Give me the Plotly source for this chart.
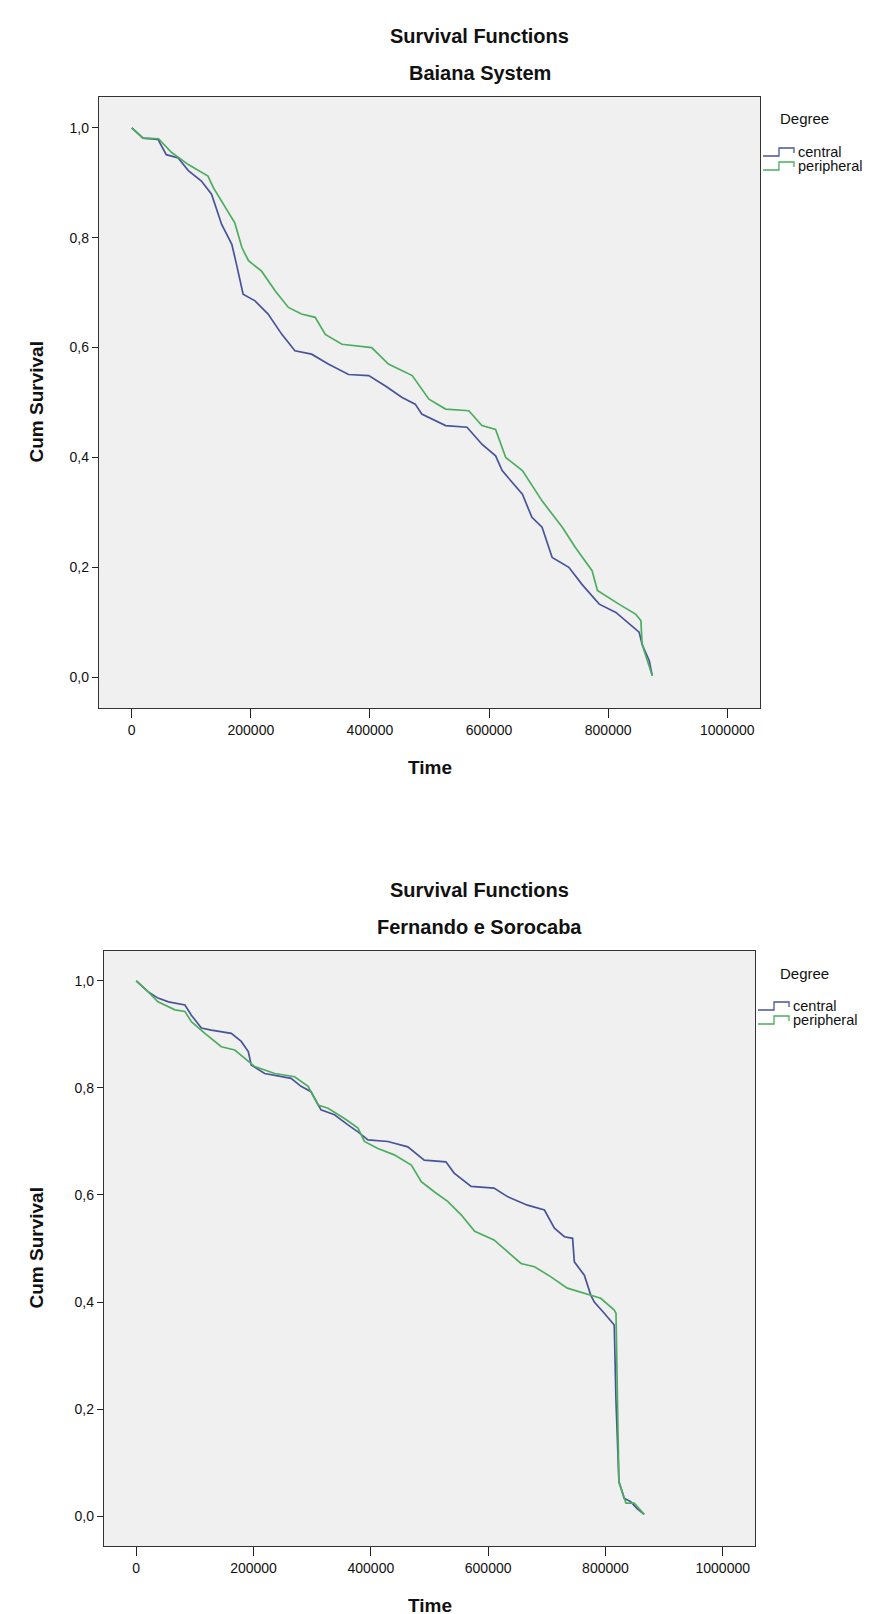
import plotly.graph_objects as go

W, H = 873, 1614

# ---------------- data ----------------
tick_vals_y = [0.0, 0.2, 0.4, 0.6, 0.8, 1.0]
tick_text_y = ["0,0", "0,2", "0,4", "0,6", "0,8", "1,0"]
tick_vals_x = [0, 200000, 400000, 600000, 800000, 1000000]
tick_text_x = ["0", "200000", "400000", "600000", "800000", "1000000"]
groups = ["central", "peripheral"]

# Baiana System
bs_central_t = [0, 19000, 44000, 58000, 78000, 95000, 117000, 134000, 151000, 168000,
                176000, 187000, 207000, 229000, 252000, 274000, 302000, 330000, 364000,
                398000, 426000, 454000, 476000, 487000, 527000, 563000, 588000, 611000,
                622000, 656000, 672000, 689000, 706000, 734000, 756000, 785000, 813000,
                835000, 852000, 857000, 869000, 874000]
bs_central_s = [1.0, 0.981, 0.979, 0.951, 0.945, 0.922, 0.903, 0.879, 0.824, 0.788,
                0.751, 0.697, 0.685, 0.661, 0.624, 0.594, 0.588, 0.570, 0.551,
                0.549, 0.530, 0.509, 0.497, 0.479, 0.458, 0.455, 0.424, 0.403,
                0.376, 0.333, 0.291, 0.273, 0.218, 0.200, 0.169, 0.133, 0.118,
                0.097, 0.082, 0.060, 0.030, 0.003]
bs_periph_t = [0, 19000, 45000, 67000, 95000, 128000, 137000, 157000, 173000, 185000,
               196000, 218000, 241000, 263000, 285000, 308000, 325000, 353000, 403000,
               431000, 471000, 499000, 527000, 566000, 588000, 611000, 628000, 656000,
               689000, 723000, 745000, 773000, 782000, 818000, 846000, 855000, 857000,
               874000]
bs_periph_s = [1.0, 0.981, 0.980, 0.955, 0.933, 0.912, 0.891, 0.855, 0.827, 0.782,
               0.758, 0.739, 0.703, 0.673, 0.661, 0.655, 0.624, 0.606, 0.600,
               0.570, 0.549, 0.506, 0.488, 0.485, 0.458, 0.451, 0.400, 0.376,
               0.321, 0.273, 0.236, 0.194, 0.158, 0.133, 0.115, 0.103, 0.060,
               0.003]

# Fernando e Sorocaba
fs_central_t = [0, 20000, 37000, 55000, 83000, 94000, 111000, 128000, 162000, 179000,
                191000, 196000, 219000, 247000, 264000, 281000, 298000, 315000, 338000,
                361000, 378000, 395000, 429000, 463000, 491000, 528000, 542000, 571000,
                610000, 633000, 667000, 696000, 713000, 730000, 744000, 747000, 764000,
                775000, 781000, 798000, 815000, 818000, 823000, 832000, 843000, 854000,
                866000]
fs_central_s = [1.0, 0.980, 0.968, 0.961, 0.955, 0.936, 0.912, 0.908, 0.902, 0.887,
                0.868, 0.843, 0.827, 0.821, 0.818, 0.803, 0.793, 0.759, 0.750,
                0.731, 0.718, 0.703, 0.700, 0.690, 0.665, 0.662, 0.641, 0.616,
                0.613, 0.597, 0.581, 0.572, 0.538, 0.522, 0.519, 0.475, 0.450,
                0.413, 0.400, 0.379, 0.357, 0.214, 0.064, 0.033, 0.027, 0.014,
                0.003]
fs_periph_t = [0, 20000, 37000, 66000, 83000, 94000, 117000, 145000, 168000, 191000,
               202000, 236000, 270000, 293000, 310000, 327000, 355000, 378000, 389000,
               412000, 440000, 469000, 486000, 508000, 531000, 554000, 577000, 610000,
               633000, 656000, 679000, 707000, 735000, 764000, 792000, 815000, 818000,
               821000, 823000, 835000, 849000, 866000]
fs_periph_s = [1.0, 0.980, 0.961, 0.946, 0.943, 0.924, 0.902, 0.877, 0.871, 0.849,
               0.840, 0.827, 0.821, 0.803, 0.768, 0.762, 0.743, 0.725, 0.700,
               0.687, 0.675, 0.656, 0.625, 0.606, 0.588, 0.563, 0.532, 0.516,
               0.494, 0.472, 0.466, 0.447, 0.426, 0.416, 0.407, 0.385, 0.379,
               0.183, 0.064, 0.024, 0.024, 0.003]

# ---------------- styling ----------------
C_BLUE = "#48549a"
C_GREEN = "#4cad5e"
FONT = "Liberation Sans, Arial, sans-serif"
TXT = "#111111"


def px(x):
    return x / W


def py(y):
    return 1 - y / H


charts = [
    dict(title="Baiana System", ct=bs_central_t, cs=bs_central_s, pt=bs_periph_t, ps=bs_periph_s,
         left=91, right=752, top=89, bottom=700, xa="x", ya="y"),
    dict(title="Fernando e Sorocaba", ct=fs_central_t, cs=fs_central_s, pt=fs_periph_t, ps=fs_periph_s,
         left=96, right=747, top=943, bottom=1538, xa="x2", ya="y2"),
]

fig = go.Figure()
annotations = []
shapes = []
layout_axes = {}

for i, ch in enumerate(charts):
    xa, ya = ch["xa"], ch["ya"]
    fig.add_trace(go.Scatter(x=ch["ct"], y=ch["cs"], mode="lines", name=groups[0],
                             line=dict(color=C_BLUE, width=1.7), xaxis=xa, yaxis=ya,
                             showlegend=False, hoverinfo="skip"))
    fig.add_trace(go.Scatter(x=ch["pt"], y=ch["ps"], mode="lines", name=groups[1],
                             line=dict(color=C_GREEN, width=1.7), xaxis=xa, yaxis=ya,
                             showlegend=False, hoverinfo="skip"))

    xkey = "xaxis" if i == 0 else "xaxis2"
    ykey = "yaxis" if i == 0 else "yaxis2"
    layout_axes[xkey] = dict(
        domain=[px(ch["left"]), px(ch["right"])], anchor=ya,
        range=[-55000, 1055000], tickvals=tick_vals_x, ticktext=tick_text_x,
        ticks="outside", ticklen=9, tickwidth=1.3, tickcolor="#222",
        showline=True, linecolor="#333", linewidth=1.3, mirror=True,
        showgrid=False, zeroline=False,
        tickfont=dict(family=FONT, size=14, color=TXT),
    )
    layout_axes[ykey] = dict(
        domain=[py(ch["bottom"]), py(ch["top"])], anchor=xa,
        range=[-0.056, 1.056], tickvals=tick_vals_y, ticktext=tick_text_y,
        ticks="outside", ticklen=6, tickwidth=1.3, tickcolor="#222",
        showline=True, linecolor="#333", linewidth=1.3, mirror=True,
        showgrid=False, zeroline=False,
        tickfont=dict(family=FONT, size=14, color=TXT),
    )

    top, bottom, left, right = ch["top"], ch["bottom"], ch["left"], ch["right"]
    cx = 472
    annotations += [
        dict(text="<b>Survival Functions</b>", x=px(cx), y=py(top - 61), xref="paper", yref="paper",
             showarrow=False, xanchor="center", yanchor="middle",
             font=dict(family=FONT, size=20, color=TXT)),
        dict(text="<b>%s</b>" % ch["title"], x=px(cx), y=py(top - 24), xref="paper", yref="paper",
             showarrow=False, xanchor="center", yanchor="middle",
             font=dict(family=FONT, size=20, color=TXT)),
        dict(text="<b>Time</b>", x=px((left + right) / 2), y=py(bottom + 59), xref="paper", yref="paper",
             showarrow=False, xanchor="center", yanchor="middle",
             font=dict(family=FONT, size=19, color=TXT)),
        dict(text="<b>Cum Survival</b>", x=px(28), y=py((top + bottom) / 2), xref="paper", yref="paper",
             showarrow=False, xanchor="center", yanchor="middle", textangle=-90,
             font=dict(family=FONT, size=19, color=TXT)),
        dict(text="Degree", x=px(770), y=py(top + 22), xref="paper", yref="paper",
             showarrow=False, xanchor="left", yanchor="middle",
             font=dict(family=FONT, size=15, color=TXT)),
    ]
    for j, (g, col) in enumerate(zip(groups, [C_BLUE, C_GREEN])):
        yc = top + 55 + j * 14
        path = "M {a},{b} L {c},{b} L {c},{d} L {e},{d} L {e},{f}".format(
            a=px(right + 3), b=py(yc + 4), c=px(right + 19), d=py(yc - 4), e=px(right + 34), f=py(yc + 1))
        shapes.append(dict(type="path", path=path, xref="paper", yref="paper",
                           line=dict(color=col, width=1.3)))
        annotations.append(dict(text=g, x=px(right + 36), y=py(yc), xref="paper", yref="paper",
                                showarrow=False, xanchor="left", yanchor="middle",
                                font=dict(family=FONT, size=14.5, color=TXT)))

fig.update_layout(
    width=W, height=H, margin=dict(l=0, r=0, t=0, b=0),
    paper_bgcolor="white", plot_bgcolor="#f0f0f0",
    annotations=annotations, shapes=shapes, showlegend=False,
    **layout_axes,
)

fig.write_html("out.html")
